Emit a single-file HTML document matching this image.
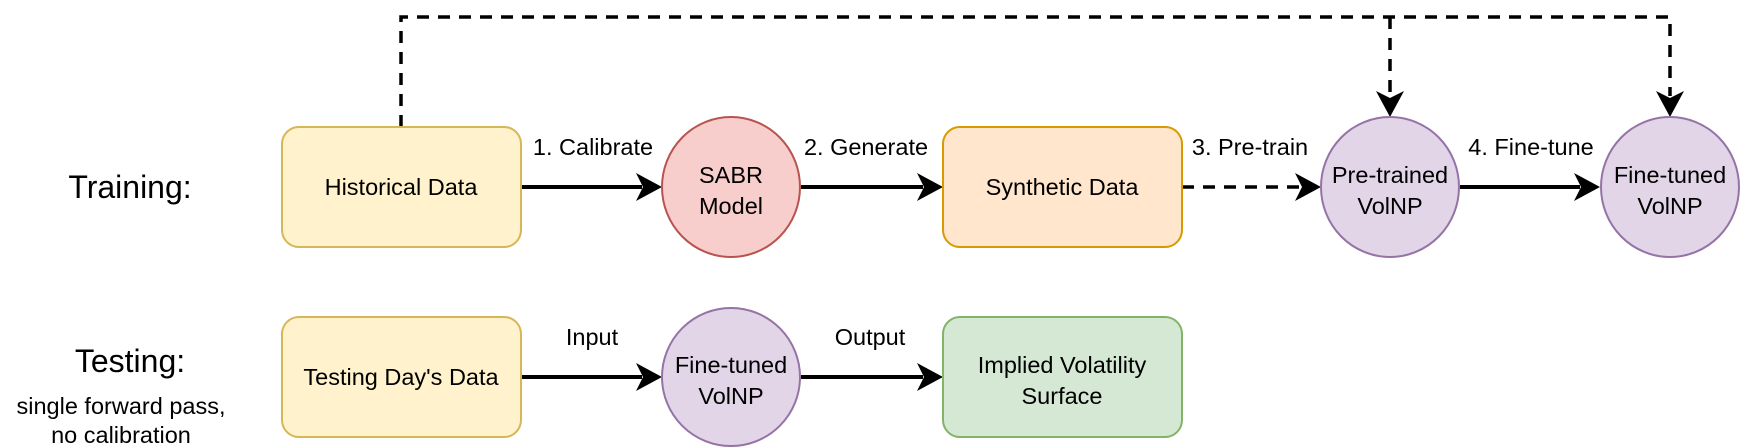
<!DOCTYPE html>
<html><head><meta charset="utf-8"><style>
html,body{margin:0;padding:0;background:#fff;}
svg{display:block;}
text{font-family:"Liberation Sans",sans-serif;fill:#000;}
</style></head><body>
<svg width="1742" height="448" viewBox="0 0 1742 448" xmlns="http://www.w3.org/2000/svg">
<!-- dashed connectors -->
<g fill="none" stroke="#000" stroke-width="3.5" stroke-dasharray="12 9">
<path d="M401 127 V17 H1670 V96"/>
<path d="M1390 17 V96"/>
<path d="M1182 187 H1300"/>
</g>
<!-- solid lines -->
<g stroke="#000" stroke-width="4">
<line x1="521" y1="187" x2="642" y2="187"/>
<line x1="801" y1="187" x2="923" y2="187"/>
<line x1="1460" y1="187" x2="1580" y2="187"/>
<line x1="521" y1="377" x2="642" y2="377"/>
<line x1="801" y1="377" x2="923" y2="377"/>
</g>
<!-- arrowheads -->
<g fill="#000">
<path d="M662 187 L636 173 L643 187 L636 201 Z"/>
<path d="M943 187 L917 173 L924 187 L917 201 Z"/>
<path d="M1321 187 L1295 173 L1302 187 L1295 201 Z"/>
<path d="M1600 187 L1574 173 L1581 187 L1574 201 Z"/>
<path d="M662 377 L636 363 L643 377 L636 391 Z"/>
<path d="M943 377 L917 363 L924 377 L917 391 Z"/>
<path d="M1390 117 L1376 91 L1390 98 L1404 91 Z"/>
<path d="M1670 117 L1656 91 L1670 98 L1684 91 Z"/>
</g>
<!-- nodes -->
<rect x="282" y="127" width="239" height="120" rx="17" fill="#fff2cc" stroke="#d6b656" stroke-width="2"/>
<ellipse cx="731" cy="187" rx="69" ry="70" fill="#f8cecc" stroke="#b85450" stroke-width="2"/>
<rect x="943" y="127" width="239" height="120" rx="17" fill="#ffe6cc" stroke="#d79b00" stroke-width="2"/>
<ellipse cx="1390" cy="187" rx="69" ry="70" fill="#e1d5e7" stroke="#9673a6" stroke-width="2"/>
<ellipse cx="1670" cy="187" rx="69" ry="70" fill="#e1d5e7" stroke="#9673a6" stroke-width="2"/>
<rect x="282" y="317" width="239" height="120" rx="17" fill="#fff2cc" stroke="#d6b656" stroke-width="2"/>
<ellipse cx="731" cy="377" rx="69" ry="69" fill="#e1d5e7" stroke="#9673a6" stroke-width="2"/>
<rect x="943" y="317" width="239" height="120" rx="17" fill="#d5e8d4" stroke="#82b366" stroke-width="2"/>
<!-- text -->
<g font-size="23.5" text-anchor="middle">
<text x="401" y="195">Historical Data</text>
<text x="731" y="183">SABR</text>
<text x="731" y="214">Model</text>
<text x="1062" y="195">Synthetic Data</text>
<text x="1390" y="183">Pre-trained</text>
<text x="1390" y="214">VolNP</text>
<text x="1670" y="183">Fine-tuned</text>
<text x="1670" y="214">VolNP</text>
<text x="401" y="385">Testing Day's Data</text>
<text x="731" y="373">Fine-tuned</text>
<text x="731" y="404">VolNP</text>
<text x="1062" y="373">Implied Volatility</text>
<text x="1062" y="404">Surface</text>
<text x="593" y="155">1. Calibrate</text>
<text x="866" y="155">2. Generate</text>
<text x="1250" y="155">3. Pre-train</text>
<text x="1531" y="155">4. Fine-tune</text>
<text x="592" y="345">Input</text>
<text x="870" y="345">Output</text>
<text x="130" y="198" font-size="32">Training:</text>
<text x="130" y="372" font-size="32">Testing:</text>
<text x="121" y="414">single forward pass,</text>
<text x="121" y="443">no calibration</text>
</g>
</svg>
</body></html>
